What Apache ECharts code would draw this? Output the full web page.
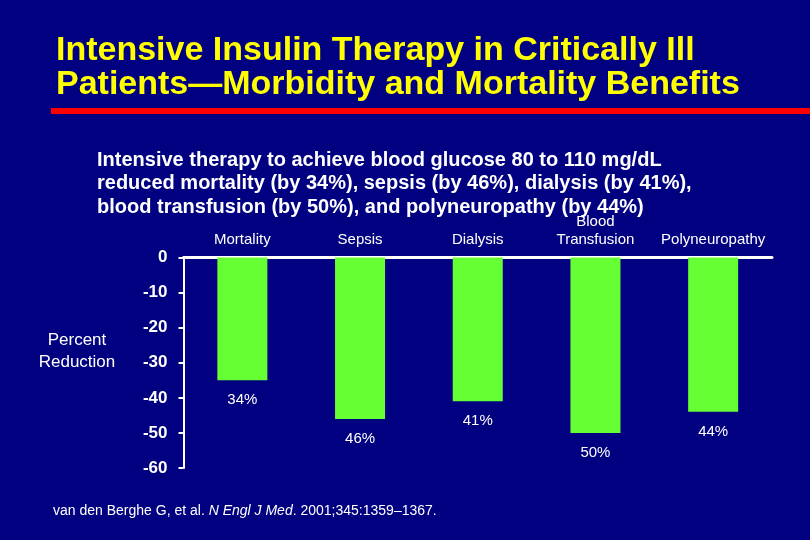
<!DOCTYPE html>
<html>
<head>
<meta charset="utf-8">
<script src="https://cdn.jsdelivr.net/npm/echarts@6/dist/echarts.min.js"></script>
<style>
html,body{margin:0;padding:0;background:#000080;}
#chart{width:810px;height:540px;}
</style>
</head>
<body>
<div id="chart"></div>
<script>
const categories = ['Mortality', 'Sepsis', 'Dialysis', 'Blood\nTransfusion', 'Polyneuropathy'];
const values = [-35, -46, -41, -50, -44];
const valueLabels = ['34%', '46%', '41%', '50%', '44%'];
const yTicks = { min: -60, max: 0, interval: 10 };

const FONT = 'Liberation Sans';
const chart = echarts.init(document.getElementById('chart'));
chart.setOption({
  backgroundColor: '#000080',
  animation: false,
  title: [
    {
      text: 'Intensive Insulin Therapy in Critically Ill\nPatients\u2014Morbidity and Mortality Benefits',
      left: 56, top: 34, padding: 0,
      textStyle: { color: '#ffff00', fontFamily: FONT, fontWeight: 'bold', fontSize: 34, lineHeight: 34 }
    },
    {
      text: 'Intensive therapy to achieve blood glucose 80 to 110 mg/dL\nreduced mortality (by 34%), sepsis (by 46%), dialysis (by 41%),\nblood transfusion (by 50%), and polyneuropathy (by 44%)',
      left: 97, top: 148.5, padding: 0,
      textStyle: { color: '#ffffff', fontFamily: FONT, fontWeight: 'bold', fontSize: 20, lineHeight: 23.5 }
    },
    {
      text: 'van den Berghe G, et al. {i|N Engl J Med}. 2001;345:1359\u20131367.',
      left: 53, top: 503, padding: 0,
      textStyle: {
        color: '#ffffff', fontFamily: FONT, fontWeight: 'normal', fontSize: 14, lineHeight: 16,
        rich: { i: { color: '#ffffff', fontFamily: FONT, fontStyle: 'italic', fontSize: 14, lineHeight: 16 } }
      }
    }
  ],
  graphic: [
    { type: 'rect', left: 51, top: 108, shape: { width: 759, height: 6 }, style: { fill: '#ff0000' }, silent: true },
    {
      type: 'text', x: 77, y: 330, silent: true,
      style: {
        text: 'Percent\nReduction', fill: '#ffffff', textAlign: 'center', align: 'center',
        font: 'normal 17px "Liberation Sans"', lineHeight: 21.5
      }
    }
  ],
  grid: { left: 183.5, right: 38, top: 257.5, bottom: 72, containLabel: false },
  xAxis: {
    type: 'category',
    position: 'top',
    data: categories,
    axisLine: { show: true, onZero: false, lineStyle: { color: '#ffffff', width: 3 } },
    axisTick: { show: false },
    axisLabel: { color: '#ffffff', fontFamily: FONT, fontSize: 15, lineHeight: 18, margin: 9, interval: 0 },
    splitLine: { show: false }
  },
  yAxis: {
    type: 'value',
    min: yTicks.min, max: yTicks.max, interval: yTicks.interval,
    axisLine: { show: true, lineStyle: { color: '#ffffff', width: 2 } },
    axisTick: { show: true, inside: false, length: 5, lineStyle: { color: '#ffffff', width: 2 } },
    axisLabel: { color: '#ffffff', fontFamily: FONT, fontWeight: 'bold', fontSize: 17, margin: 16 },
    splitLine: { show: false }
  },
  series: [{
    type: 'bar',
    data: values,
    barWidth: 50,
    itemStyle: { color: '#66ff33' },
    label: {
      show: true, position: 'bottom', distance: 12,
      color: '#ffffff', fontFamily: FONT, fontSize: 15,
      formatter: p => valueLabels[p.dataIndex]
    }
  }]
});
</script>
</body>
</html>
